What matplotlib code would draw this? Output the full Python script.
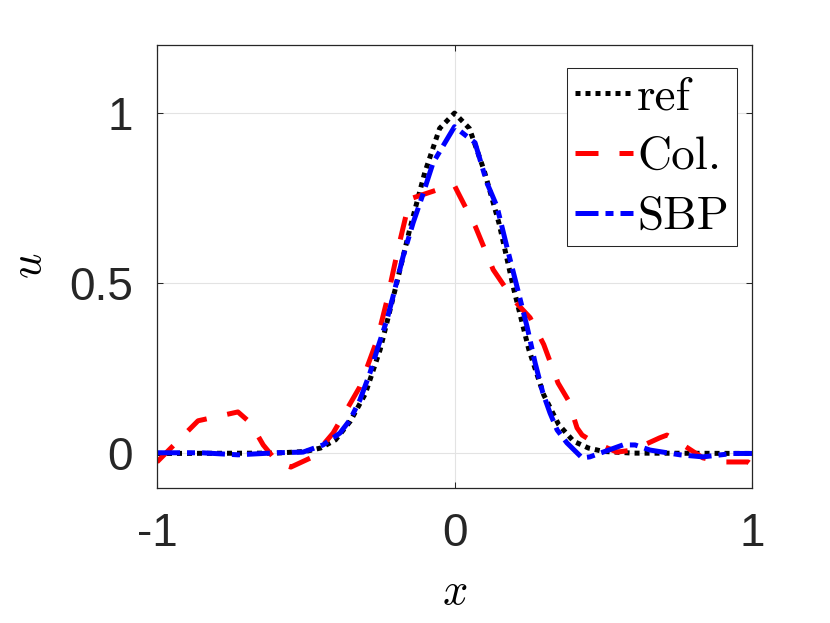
import matplotlib
matplotlib.use("Agg")
import matplotlib.pyplot as plt

# values
ref_x = [-1, -0.6, -0.5, -0.45, -0.4, -0.35, -0.3, -0.25, -0.2, -0.15, -0.1, -0.05, 0,
         0.05, 0.1, 0.15, 0.2, 0.25, 0.3, 0.35, 0.4, 0.45, 0.5, 0.6, 1]
ref_u = [0, 0.001, 0.006, 0.016, 0.04, 0.095, 0.175, 0.305, 0.48, 0.66, 0.825, 0.955, 1.0,
         0.955, 0.83, 0.675, 0.48, 0.305, 0.172, 0.085, 0.036, 0.016, 0.006, 0.001, 0]

col_x = [-1, -0.862, -0.728, -0.686, -0.643, -0.593, -0.55, -0.476, -0.442, -0.408, -0.318,
         -0.26, -0.227, -0.19, -0.156, -0.139, -0.039, 0, 0.012, 0.07, 0.13, 0.2, 0.254,
         0.3, 0.348, 0.382, 0.412, 0.429, 0.466, 0.546, 0.6, 0.69, 0.714, 0.758, 0.835,
         0.903, 0.987, 1]
col_u = [-0.025, 0.096, 0.122, 0.09, 0.025, -0.028, -0.04, -0.01, 0.025, 0.06, 0.196,
         0.334, 0.45, 0.6, 0.725, 0.751, 0.78, 0.787, 0.766, 0.667, 0.54, 0.45, 0.399,
         0.32, 0.207, 0.157, 0.075, 0.054, 0.034, 0.004, 0.01, 0.046, 0.054, 0.031, -0.013,
         -0.025, -0.025, -0.034]

sbp_x = [-1, -0.85, -0.728, -0.6, -0.509, -0.442, -0.385, -0.351, -0.318, -0.284, -0.257,
         -0.227, -0.207, -0.173, -0.139, -0.109, -0.072, -0.032, 0, 0.069, 0.109, 0.143,
         0.176, 0.21, 0.244, 0.271, 0.297, 0.321, 0.345, 0.378, 0.429, 0.455, 0.566, 0.607,
         0.657, 0.758, 0.835, 0.936, 1]
sbp_u = [0.002, 0.002, -0.004, 0.002, 0.004, 0.025, 0.06, 0.099, 0.157, 0.237, 0.313,
         0.393, 0.46, 0.578, 0.678, 0.754, 0.854, 0.913, 0.96, 0.913, 0.795, 0.725,
         0.607, 0.49, 0.372, 0.266, 0.178, 0.119, 0.069, 0.031, -0.013, -0.01, 0.025, 0.025,
         0.01, -0.004, -0.01, 0.0, 0.0]

labels = ["ref", "Col.", "SBP"]
xticks = [-1, 0, 1]
xtick_labels = ["-1", "0", "1"]
yticks = [0, 0.5, 1]
ytick_labels = ["0", "0.5", "1"]

plt.rcParams["mathtext.fontset"] = "cm"
plt.rcParams["font.family"] = ["Liberation Sans", "DejaVu Sans"]

fig = plt.figure(figsize=(8.3, 6.23), dpi=100)
ax = fig.add_axes([157 / 830, 1 - 487.5 / 623, 595 / 830, 442.5 / 623])

lw = 3.6
ax.plot(ref_x, ref_u, color="black", lw=lw, linestyle=(0, (1, 1)), label=labels[0])
ax.plot(col_x, col_u, color="red", lw=lw, linestyle=(0, (4.6, 4.2)), label=labels[1])
ax.plot(sbp_x, sbp_u, color="blue", lw=lw, linestyle=(0, (4.6, 1.4, 1.6, 1.4)),
        label=labels[2])

ax.set_xlim(-1, 1)
ax.set_ylim(-0.1, 1.2)
ax.set_xticks(xticks)
ax.set_xticklabels(xtick_labels)
ax.set_yticks(yticks)
ax.set_yticklabels(ytick_labels)
ax.tick_params(direction="in", length=4.3, width=0.75, colors="#262626",
               labelsize=33, pad=17.5, top=True, right=True)
ax.grid(True, color="#e3e3e3", lw=0.8)
ax.set_axisbelow(True)
for s in ax.spines.values():
    s.set_color("#262626")
    s.set_linewidth(0.9)

ax.set_xlabel("$x$", fontsize=32)
ax.set_ylabel("$u$", fontsize=32, rotation=90)
ax.xaxis.set_label_coords(0.5, -0.19)
ax.yaxis.set_label_coords(-0.18, 0.5)

leg = ax.legend(loc="upper right", bbox_to_anchor=(580 / 595, (487.5 - 68) / 442.5),
                borderaxespad=0, prop={"family": "cmr10", "size": 34},
                handlelength=1.22, handletextpad=0.1, labelspacing=0.38,
                borderpad=0.17, fancybox=False, framealpha=1)
leg.get_frame().set_edgecolor("#262626")
leg.get_frame().set_linewidth(0.75)

fig.savefig("out.png", dpi=100)
